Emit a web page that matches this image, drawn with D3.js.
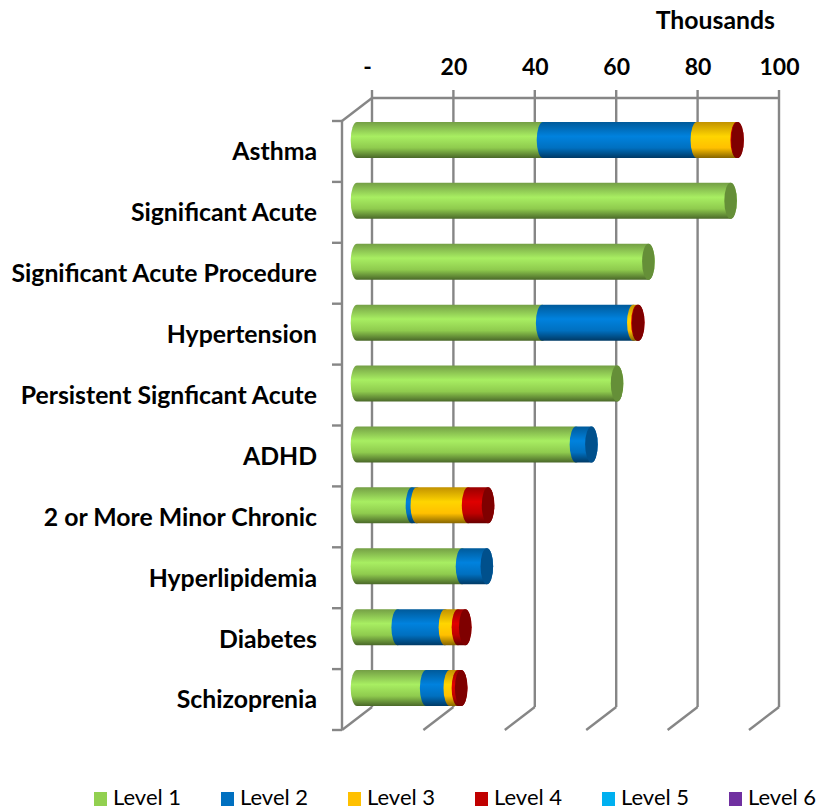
<!DOCTYPE html>
<html>
<head>
<meta charset="utf-8">
<script src="https://cdn.jsdelivr.net/npm/d3@7"></script>
<style>
  html, body { margin: 0; padding: 0; background: #fff; }
  text { font-family: Lato, "Open Sans", sans-serif; fill: #000; }
</style>
</head>
<body>
<div id="myChart"></div>
<script>
// values, in thousands
const categories = ["Asthma", "Significant Acute", "Significant Acute Procedure", "Hypertension",
  "Persistent Signficant Acute", "ADHD", "2 or More Minor Chronic", "Hyperlipidemia", "Diabetes", "Schizoprenia"];
const levels = ["Level 1", "Level 2", "Level 3", "Level 4", "Level 5", "Level 6"];
const level1 = [45.7, 91.8, 71.6, 45.5, 63.9, 53.8, 13.5, 25.8, 10.0, 17.0];
const level2 = [37.8, 0, 0, 22.4, 0, 3.8, 1.2, 6.1, 11.6, 5.8];
const level3 = [9.8, 0, 0, 1.0, 0, 0, 12.6, 0, 3.2, 2.0];
const level4 = [0.2, 0, 0, 0.2, 0, 0, 4.9, 0, 1.8, 0.8];
const level5 = [0, 0, 0, 0, 0, 0, 0, 0, 0, 0];
const level6 = [0, 0, 0, 0, 0, 0, 0, 0, 0, 0];
const xTicks = [0, 20, 40, 60, 80, 100];

const series = [level1, level2, level3, level4, level5, level6];
const legendColors = ["#92d050", "#0070c0", "#ffc000", "#c00000", "#00b0f0", "#7030a0"];
// top, light, mid, bottom shades of the cylinders + the end cap
const shades = [
  ["#749f45", "#a8ee62", "#8fcb4e", "#4a6829", "#658f38"],
  ["#005a9a", "#0082de", "#0070c0", "#003a66", "#00508c"],
  ["#c29200", "#ffd500", "#ffc000", "#866500", "#b58800"],
  ["#990000", "#e00000", "#c00000", "#660000", "#7f0000"],
  ["#0085b5", "#1cc4ff", "#00b0f0", "#005a80", "#007ba8"],
  ["#552478", "#8038b6", "#7030a0", "#3a1858", "#4e2270"]
];

const width = 816, height = 809;
const depthX = 30, depthY = 23;
const capRx = 6.3, barHeight = 36;

const svg = d3.select("#myChart").append("svg")
    .attr("width", width)
    .attr("height", height)
    .style("display", "block");

const x = d3.scaleLinear().domain([0, 100]).range([372, 779]);
const y = d3.scaleBand().domain(categories).range([121, 730]);
const gridColor = "#868686";

const defs = svg.append("defs");
shades.forEach((s, i) => {
    const g = defs.append("linearGradient").attr("id", "cyl" + i)
        .attr("x1", 0).attr("x2", 0).attr("y1", 0).attr("y2", 1);
    [[0, s[0]], [0.4, s[1]], [0.72, s[2]], [1, s[3]]].forEach(p => {
        g.append("stop").attr("offset", p[0]).attr("stop-color", p[1]);
    });
});

// back wall gridlines
const wallTop = y.range()[0] - depthY, wallBottom = y.range()[1] - depthY;
const grid = svg.append("g").attr("stroke", gridColor).attr("stroke-width", 2.4).attr("fill", "none");
grid.selectAll(".wall").data(xTicks).enter().append("line")
    .attr("x1", d => x(d)).attr("x2", d => x(d))
    .attr("y1", wallTop - 8).attr("y2", wallBottom);
grid.append("line")
    .attr("x1", x(0)).attr("x2", x(100)).attr("y1", wallTop).attr("y2", wallTop);
// floor
grid.selectAll(".floor").data(xTicks).enter().append("line")
    .attr("x1", d => x(d)).attr("y1", wallBottom)
    .attr("x2", d => x(d) - depthX).attr("y2", wallBottom + depthY);
// left side
grid.append("line")
    .attr("x1", x(0)).attr("y1", wallTop)
    .attr("x2", x(0) - depthX).attr("y2", wallTop + depthY);
grid.append("line")
    .attr("x1", x(0) - depthX).attr("x2", x(0) - depthX)
    .attr("y1", y.range()[0]).attr("y2", y.range()[1]);
grid.selectAll(".tick").data(categories.map(c => y(c)).concat(y.range()[1])).enter().append("line")
    .attr("x1", x(0) - depthX - 10).attr("x2", x(0) - depthX)
    .attr("y1", d => d).attr("y2", d => d);

// bars: later segments bulge over the earlier ones
function segPath(x0, x1, top, bottom) {
    const ry = (bottom - top) / 2;
    return `M${x0},${top}A${capRx},${ry} 0 0 0 ${x0},${bottom}L${x1},${bottom}A${capRx},${ry} 0 0 0 ${x1},${top}Z`;
}

const rows = svg.append("g").attr("transform", `translate(${-depthX / 2},0)`);
categories.forEach((c, i) => {
    const top = y(c) + y.bandwidth() / 2 - depthY / 2 - barHeight / 2;
    const bottom = top + barHeight;
    const row = rows.append("g");
    let sum = 0, last = 0;
    series.forEach((s, j) => {
        if (s[i] <= 0) return;
        row.append("path")
            .attr("d", segPath(x(sum), x(sum + s[i]), top, bottom))
            .attr("fill", `url(#cyl${j})`);
        sum += s[i];
        last = j;
    });
    row.append("ellipse")
        .attr("cx", x(sum)).attr("cy", (top + bottom) / 2)
        .attr("rx", capRx).attr("ry", barHeight / 2)
        .attr("fill", shades[last][4]);
});

// axes
const xAxis = d3.axisTop(x).tickValues(xTicks)
    .tickFormat(d => d === 0 ? "-" : d).tickSize(0).tickPadding(0);
const xG = svg.append("g").attr("transform", `translate(0,${75})`).call(xAxis);
xG.select(".domain").remove();
xG.selectAll("text").style("font-size", "23px").style("font-weight", "700");
xG.selectAll(".tick").filter(d => d === 0).select("text").attr("dx", -5);

const yAxis = d3.axisLeft(y).tickSize(0).tickPadding(0);
const yG = svg.append("g").attr("transform", "translate(317,1)").call(yAxis);
yG.select(".domain").remove();
yG.selectAll("text").style("font-size", "24.8px").style("font-weight", "700");

svg.append("text")
    .attr("x", 775).attr("y", 29)
    .attr("text-anchor", "end")
    .style("font-size", "24.8px").style("font-weight", "700")
    .text("Thousands");

// legend
const legendX = d3.scalePoint().domain(levels).range([94, 729]);
const legend = svg.selectAll(".legend").data(levels).enter().append("g")
    .attr("class", "legend")
    .attr("transform", d => `translate(${legendX(d)},792)`);
legend.append("rect").attr("width", 13).attr("height", 14)
    .attr("fill", (d, i) => legendColors[i]);
legend.append("text").attr("x", 19).attr("y", 13)
    .style("font-size", "22px")
    .text(d => d);
</script>
</body>
</html>
